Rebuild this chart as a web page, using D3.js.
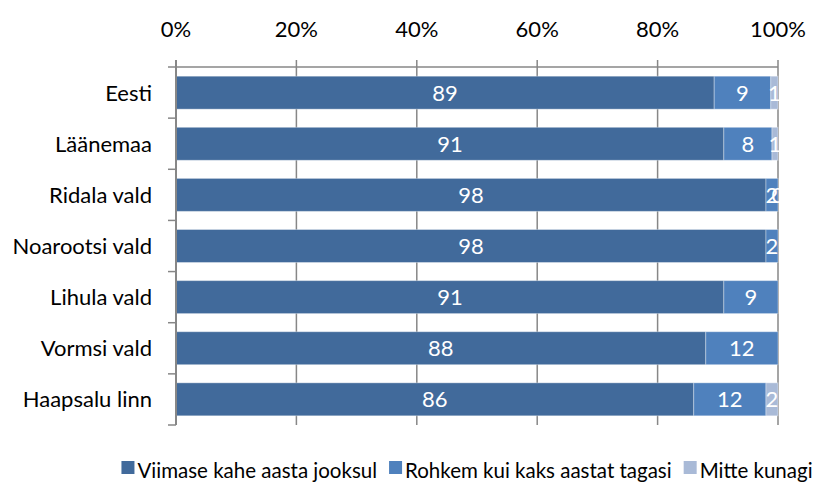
<!DOCTYPE html>
<html>
<head>
<meta charset="utf-8">
<script src="https://cdn.jsdelivr.net/npm/d3@7"></script>
<style>
  body { margin: 0; background: #fff; }
  svg { font-family: Lato, "Open Sans", sans-serif; }
</style>
</head>
<body>
<div class="App"></div>
<script>
// categories top to bottom
const regions = ["Eesti", "Läänemaa", "Ridala vald", "Noarootsi vald", "Lihula vald", "Vormsi vald", "Haapsalu linn"];
const seriesNames = ["Viimase kahe aasta jooksul", "Rohkem kui kaks aastat tagasi", "Mitte kunagi"];
// shares in percent
const recent = [89.4, 91.0, 98.0, 98.0, 91.0, 88.0, 86.0];
const earlier = [9.4, 8.0, 2.0, 2.0, 9.0, 12.0, 12.0];
const never = [1.2, 1.0, 0, null, null, null, 2.0];
const tickValues = [0, 20, 40, 60, 80, 100];

const colors = ["#416A9B", "#4F81BD", "#A9BAD7"];

const width = 834, height = 485;
const margin = {top: 67, right: 56, bottom: 60, left: 176};
const fontSize = 22;

const svg = d3.select(".App").append("svg")
    .attr("width", width)
    .attr("height", height);

const x = d3.scaleLinear()
    .domain([0, 100])
    .range([margin.left, width - margin.right]);

const y = d3.scaleBand()
    .domain(regions)
    .range([margin.top, height - margin.bottom])
    .paddingInner(0.355)
    .paddingOuter(0.18);

// gridlines
svg.append("g")
    .selectAll("line")
    .data(tickValues)
    .enter().append("line")
      .attr("x1", d => x(d)).attr("x2", d => x(d))
      .attr("y1", margin.top - 7).attr("y2", height - margin.bottom)
      .attr("stroke", "#878787")
      .attr("stroke-width", 1.5);

// top axis line
svg.append("line")
    .attr("x1", x(0)).attr("x2", x(100))
    .attr("y1", margin.top).attr("y2", margin.top)
    .attr("stroke", "#878787")
    .attr("stroke-width", 1.5);

// tick labels
svg.append("g")
    .selectAll("text")
    .data(tickValues)
    .enter().append("text")
      .attr("x", d => x(d))
      .attr("y", 37)
      .attr("text-anchor", "middle")
      .attr("font-size", fontSize)
      .attr("fill", "#000")
      .text(d => d + "%");

// stacked bars
const rows = regions.map((r, i) => ({region: r, vals: [recent[i], earlier[i], never[i]]}));

rows.forEach(function(row) {
  let acc = 0;
  row.vals.forEach(function(v, j) {
    if (v === null) return;
    const x0 = acc;
    acc += v;
    svg.append("rect")
        .attr("x", x(x0))
        .attr("y", y(row.region))
        .attr("width", x(acc) - x(x0))
        .attr("height", y.bandwidth())
        .attr("fill", colors[j])
        .attr("stroke", "rgba(255,255,255,0.35)")
        .attr("stroke-width", 1);
    svg.append("text")
        .attr("x", (x(x0) + x(acc)) / 2)
        .attr("y", y(row.region) + y.bandwidth() / 2)
        .attr("dy", "0.36em")
        .attr("text-anchor", "middle")
        .attr("font-size", fontSize)
        .attr("fill", "#fff")
        .text(d3.format(".0f")(v));
  });
});

// left axis with category separators
const y0 = margin.top, y1 = height - margin.bottom;
svg.append("line")
    .attr("x1", x(0)).attr("x2", x(0))
    .attr("y1", y0 - 7).attr("y2", y1)
    .attr("stroke", "#878787")
    .attr("stroke-width", 2);
svg.append("g")
    .selectAll("line")
    .data(d3.range(regions.length + 1))
    .enter().append("line")
      .attr("x1", x(0) - 8).attr("x2", x(0))
      .attr("y1", i => y0 + i * (y1 - y0) / regions.length)
      .attr("y2", i => y0 + i * (y1 - y0) / regions.length)
      .attr("stroke", "#878787")
      .attr("stroke-width", 1.5);

// category labels
svg.append("g")
    .selectAll("text")
    .data(regions)
    .enter().append("text")
      .attr("x", 152)
      .attr("y", d => y(d) + y.bandwidth() / 2)
      .attr("dy", "0.36em")
      .attr("text-anchor", "end")
      .attr("font-size", fontSize)
      .attr("fill", "#000")
      .text(d => d);

// legend, items laid out one after another and centred
const legend = svg.append("g");
const items = legend.selectAll("g")
    .data(seriesNames)
    .enter().append("g");
items.append("rect")
    .attr("y", 461)
    .attr("width", 13).attr("height", 13)
    .attr("fill", (d, i) => colors[i]);
items.append("text")
    .attr("x", 16)
    .attr("y", 478)
    .attr("font-size", 20.5)
    .attr("fill", "#000")
    .text(d => d);

let pos = 0;
items.each(function() {
  const w = d3.select(this).select("text").node().getComputedTextLength();
  d3.select(this).attr("transform", "translate(" + pos + ",0)");
  pos += 16 + w + 12;
});
const total = pos - 12;
legend.attr("transform", "translate(" + (467 - total / 2) + ",0)");
</script>
</body>
</html>
